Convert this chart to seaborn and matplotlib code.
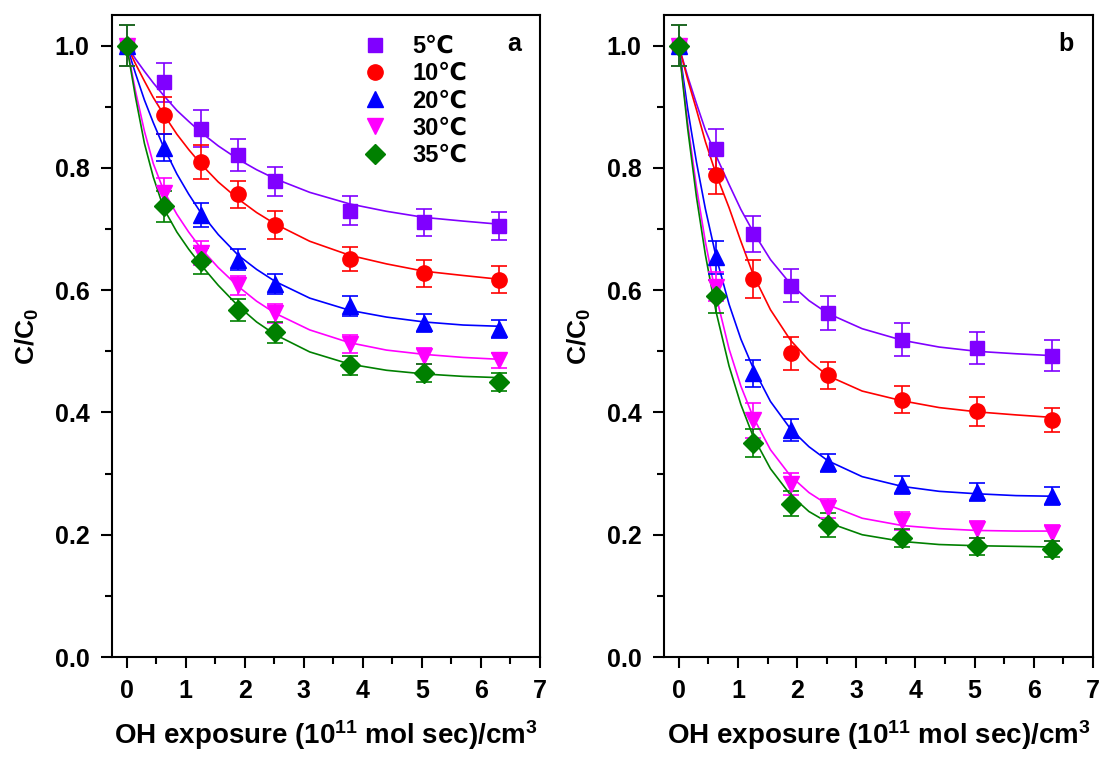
import numpy as np
import matplotlib
matplotlib.use("Agg")
import matplotlib.pyplot as plt
from matplotlib.lines import Line2D
from matplotlib.ticker import MultipleLocator
import seaborn as sns

sns.set_style("white")
plt.rcParams["font.family"] = ["Liberation Sans", "DejaVu Sans"]
plt.rcParams["font.weight"] = "bold"
plt.rcParams["mathtext.fontset"] = "custom"
plt.rcParams["mathtext.rm"] = "Liberation Sans:bold"
plt.rcParams["mathtext.bf"] = "Liberation Sans:bold"
plt.rcParams["mathtext.default"] = "bf"
for key in ["text.color", "axes.labelcolor", "xtick.color", "ytick.color"]:
    plt.rcParams[key] = "black"

# Measured points (same x grid in both panels)
x_pts = [0, 0.63, 1.26, 1.89, 2.52, 3.78, 5.04, 6.30]
labels = ["5℃", "10℃", "20℃", "30℃", "35℃"]
colors = ["#8000FF", "#FF0000", "#0000FF", "#FF00FF", "#008000"]
markers = ["s", "o", "^", "v", "D"]
msizes = [10, 11, 11, 11, 10]

# panel a
a_5 = [1.0, 0.940, 0.864, 0.821, 0.778, 0.730, 0.711, 0.705]
a_10 = [1.0, 0.886, 0.810, 0.757, 0.706, 0.651, 0.628, 0.617]
a_20 = [1.0, 0.833, 0.723, 0.650, 0.610, 0.574, 0.546, 0.537]
a_30 = [1.0, 0.759, 0.661, 0.608, 0.562, 0.512, 0.493, 0.485]
a_35 = [1.0, 0.737, 0.648, 0.568, 0.531, 0.477, 0.465, 0.450]
a_err_5 = [0.034, 0.032, 0.030, 0.026, 0.024, 0.024, 0.022, 0.023]
a_err_10 = [0.034, 0.030, 0.028, 0.022, 0.023, 0.020, 0.022, 0.022]
a_err_20 = [0.034, 0.022, 0.020, 0.017, 0.016, 0.016, 0.015, 0.015]
a_err_30 = [0.034, 0.025, 0.020, 0.016, 0.015, 0.014, 0.013, 0.013]
a_err_35 = [0.034, 0.025, 0.021, 0.018, 0.017, 0.016, 0.015, 0.015]

# panel b
b_5 = [1.0, 0.831, 0.692, 0.607, 0.563, 0.519, 0.506, 0.493]
b_10 = [1.0, 0.789, 0.619, 0.497, 0.461, 0.421, 0.402, 0.388]
b_20 = [1.0, 0.654, 0.464, 0.371, 0.317, 0.281, 0.270, 0.263]
b_30 = [1.0, 0.606, 0.387, 0.283, 0.243, 0.222, 0.209, 0.203]
b_35 = [1.0, 0.590, 0.350, 0.251, 0.216, 0.195, 0.181, 0.177]
b_err_5 = [0.034, 0.032, 0.030, 0.027, 0.028, 0.027, 0.026, 0.026]
b_err_10 = [0.034, 0.032, 0.031, 0.027, 0.022, 0.022, 0.024, 0.020]
b_err_20 = [0.034, 0.027, 0.022, 0.018, 0.015, 0.015, 0.015, 0.015]
b_err_30 = [0.034, 0.024, 0.028, 0.018, 0.015, 0.015, 0.014, 0.013]
b_err_35 = [0.034, 0.027, 0.023, 0.020, 0.020, 0.015, 0.014, 0.013]

# Fitted curves on a common x grid
x_fit = [0, 0.15, 0.3, 0.45, 0.63, 0.85, 1.05, 1.26, 1.55, 1.89, 2.2, 2.52,
         3.1, 3.78, 4.4, 5.04, 5.7, 6.3]
a_fit_5 = [1.0, 0.978, 0.958, 0.939, 0.918, 0.894, 0.876, 0.858, 0.836, 0.814,
           0.797, 0.782, 0.760, 0.741, 0.729, 0.719, 0.713, 0.708]
a_fit_10 = [1.0, 0.970, 0.942, 0.915, 0.887, 0.855, 0.830, 0.806, 0.777, 0.749,
            0.727, 0.708, 0.680, 0.657, 0.643, 0.631, 0.624, 0.618]
a_fit_20 = [1.0, 0.954, 0.911, 0.874, 0.833, 0.790, 0.757, 0.726, 0.691, 0.657,
            0.634, 0.614, 0.587, 0.567, 0.556, 0.548, 0.543, 0.541]
a_fit_30 = [1.0, 0.925, 0.860, 0.807, 0.762, 0.724, 0.695, 0.668, 0.637, 0.606,
            0.582, 0.562, 0.535, 0.514, 0.502, 0.495, 0.490, 0.487]
a_fit_35 = [1.0, 0.915, 0.840, 0.785, 0.733, 0.695, 0.667, 0.641, 0.608, 0.574,
            0.548, 0.527, 0.499, 0.479, 0.469, 0.463, 0.459, 0.457]
b_fit_5 = [1.0, 0.950, 0.905, 0.862, 0.820, 0.773, 0.732, 0.695, 0.650, 0.610,
           0.583, 0.562, 0.537, 0.518, 0.507, 0.500, 0.496, 0.493]
b_fit_10 = [1.0, 0.945, 0.895, 0.843, 0.790, 0.735, 0.680, 0.625, 0.568, 0.518,
            0.485, 0.460, 0.435, 0.419, 0.408, 0.401, 0.396, 0.392]
b_fit_20 = [1.0, 0.897, 0.809, 0.733, 0.655, 0.577, 0.520, 0.472, 0.418, 0.373,
            0.344, 0.321, 0.295, 0.279, 0.271, 0.267, 0.264, 0.263]
b_fit_30 = [1.0, 0.874, 0.768, 0.679, 0.591, 0.504, 0.443, 0.392, 0.339, 0.296,
            0.269, 0.249, 0.227, 0.215, 0.210, 0.207, 0.206, 0.206]
b_fit_35 = [1.0, 0.865, 0.752, 0.658, 0.565, 0.476, 0.413, 0.360, 0.308, 0.265,
            0.238, 0.220, 0.200, 0.189, 0.184, 0.182, 0.181, 0.180]

panels = [
    ("a", [a_5, a_10, a_20, a_30, a_35],
     [a_err_5, a_err_10, a_err_20, a_err_30, a_err_35],
     [a_fit_5, a_fit_10, a_fit_20, a_fit_30, a_fit_35]),
    ("b", [b_5, b_10, b_20, b_30, b_35],
     [b_err_5, b_err_10, b_err_20, b_err_30, b_err_35],
     [b_fit_5, b_fit_10, b_fit_20, b_fit_30, b_fit_35]),
]

fig = plt.figure(figsize=(11.02, 7.6), dpi=100)
ax_a = fig.add_axes([0.1016, 0.1355, 0.3884, 0.8447])
ax_b = fig.add_axes([0.6025, 0.1355, 0.3893, 0.8447])

for ax, (tag, ys, errs, fits) in zip([ax_a, ax_b], panels):
    for y, e, f, c, m, ms in zip(ys, errs, fits, colors, markers, msizes):
        sns.lineplot(x=x_fit, y=f, color=c, lw=1.2, ax=ax, sort=False,
                     estimator=None, zorder=2)
        ax.errorbar(x_pts, y, yerr=e, fmt="none", ecolor=c, elinewidth=1.2,
                    capsize=6, capthick=1.2, zorder=3)
        ax.plot(x_pts, y, ls="none", marker=m, ms=ms, color=c, mec=c, zorder=4)

    ax.set_xlim(-0.25, 7)
    ax.set_ylim(0, 1.05)
    ax.xaxis.set_major_locator(MultipleLocator(1))
    ax.xaxis.set_minor_locator(MultipleLocator(0.5))
    ax.yaxis.set_major_locator(MultipleLocator(0.2))
    ax.yaxis.set_minor_locator(MultipleLocator(0.1))
    ax.tick_params(which="both", direction="out", bottom=True, left=True,
                   top=False, right=False, width=1.5)
    ax.tick_params(which="major", length=8, labelsize=18, pad=8)
    ax.tick_params(which="minor", length=5)
    for lab in ax.get_xticklabels() + ax.get_yticklabels():
        lab.set_fontweight("bold")
    for sp in ax.spines.values():
        sp.set_linewidth(1.5)
        sp.set_color("black")
    ax.set_xlabel(r"OH exposure (10$^{11}$ mol sec)/cm$^{3}$", fontsize=20,
                  fontweight="bold", labelpad=11)
    ax.set_ylabel(r"C/C$_{0}$", fontsize=19, fontweight="bold", labelpad=10)
    ax.text(0.955, 0.955, tag, transform=ax.transAxes, ha="right", va="center",
            fontsize=18, fontweight="bold")

handles = [Line2D([], [], ls="none", marker=m, ms=ms, color=c)
           for c, m, ms in zip(colors, markers, msizes)]
ax_a.legend(handles, labels, loc="upper left", bbox_to_anchor=(0.52, 0.995),
            frameon=False, prop={"weight": "bold", "size": 17},
            handletextpad=0.6, labelspacing=0.18, borderaxespad=0.3)

fig.savefig("out.png", dpi=100)
